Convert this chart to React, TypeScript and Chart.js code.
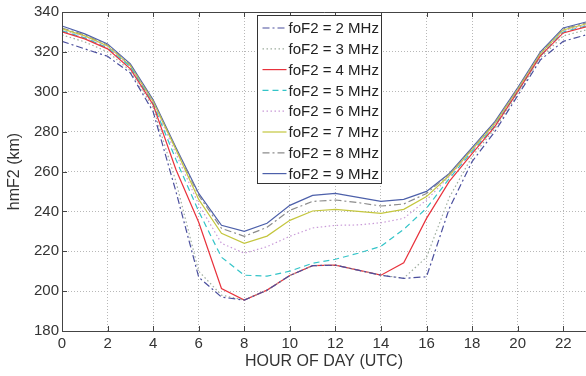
import React, { useEffect, useRef } from 'react';
import { Chart, registerables } from 'chart.js';

Chart.register(...registerables);

const hours = [0, 1, 2, 3, 4, 5, 6, 7, 8, 9, 10, 11, 12, 13, 14, 15, 16, 17, 18, 19, 20, 21, 22, 23];

const f2 = [325.3, 321.5, 317.8, 309.4, 290, 250, 207, 197, 195.5, 200.5, 207.8, 212.8, 213, 210.5, 208, 206.4, 207.2, 241.5, 265, 280, 298, 316, 325.3, 328.5];
const f3 = [328.5, 325, 320, 310.5, 292, 255, 210, 198, 195.5, 200.5, 207.8, 212.8, 213, 210.5, 208, 206.5, 217, 247, 267.5, 281.5, 299, 317, 328, 331];
const f4 = [330, 326.5, 321.5, 311.5, 293.5, 261, 234.5, 201.3, 195.5, 200.5, 207.8, 212.8, 213, 210.5, 208, 214.2, 236.5, 255, 269, 282.5, 300, 318, 329.5, 332.5];
const f5 = [330.5, 327, 322, 312.5, 294, 266, 240, 217, 208, 207.5, 210, 214, 216, 219, 222.5, 231, 241.6, 256.5, 270, 283, 300, 318, 330, 333];
const f6 = [331, 327.5, 322.5, 312.5, 294.5, 269, 243.5, 224, 219, 222.3, 227.5, 231.7, 233, 233.2, 234.3, 236.5, 245.7, 257.5, 270.5, 283.5, 300.5, 318.5, 330.5, 333.5];
const f7 = [331.5, 328, 323, 313, 295, 271, 246, 229, 224, 227.6, 235.5, 240.2, 241, 240, 239, 241, 247.4, 258, 271, 284, 301, 319, 331, 334];
const f8 = [332, 328.5, 323.5, 313.5, 295.5, 271.5, 248, 231.5, 227.5, 232, 240.5, 245, 245.7, 244.4, 242.7, 243.7, 249, 258.8, 271.5, 284.5, 301.5, 319.5, 331.5, 334.5];
const f9 = [333, 329, 324, 314, 296, 272, 249, 233, 230, 234, 243, 248, 249, 247, 245, 246, 250, 259, 272, 285, 302, 320, 332, 335];

const seriesLabels = ['foF2 = 2 MHz', 'foF2 = 3 MHz', 'foF2 = 4 MHz', 'foF2 = 5 MHz', 'foF2 = 6 MHz', 'foF2 = 7 MHz', 'foF2 = 8 MHz', 'foF2 = 9 MHz'];
const seriesValues = [f2, f3, f4, f5, f6, f7, f8, f9];
const seriesColors = ['#4b4f9e', '#9fae9f', '#e8323c', '#33c4c8', '#c99ad8', '#c4c63e', '#8c8c8c', '#4d60aa'];
const seriesDashes: number[][] = [[7, 3, 2, 3], [1.5, 2.5], [], [6, 4], [1.5, 2.5], [], [7, 3, 2, 3], []];

const yTicks = [180, 200, 220, 240, 260, 280, 300, 320, 340];
const xTicks = [0, 2, 4, 6, 8, 10, 12, 14, 16, 18, 20, 22];

const FONT = "'Liberation Sans', Arial, Helvetica, sans-serif";

const framePlugin = {
  id: 'frame',
  beforeDraw(chart: any) {
    const ctx = chart.ctx;
    ctx.save();
    ctx.fillStyle = '#ffffff';
    ctx.fillRect(0, 0, chart.width, chart.height);
    ctx.restore();
  },
  afterDraw(chart: any) {
    const ctx = chart.ctx;
    const a = chart.chartArea;
    const xs = chart.scales.x;
    const ys = chart.scales.y;
    ctx.save();
    ctx.strokeStyle = '#444444';
    ctx.lineWidth = 1;
    ctx.setLineDash([]);
    ctx.beginPath();
    ctx.moveTo(a.right, a.top + 0.5);
    ctx.lineTo(a.left + 0.5, a.top + 0.5);
    ctx.lineTo(a.left + 0.5, a.bottom + 0.5);
    ctx.lineTo(a.right, a.bottom + 0.5);
    ctx.stroke();
    // inward tick marks
    ctx.beginPath();
    xTicks.forEach((t) => {
      const px = Math.round(xs.getPixelForValue(t)) + 0.5;
      ctx.moveTo(px, a.bottom);
      ctx.lineTo(px, a.bottom - 5);
      ctx.moveTo(px, a.top);
      ctx.lineTo(px, a.top + 5);
    });
    yTicks.forEach((t) => {
      const py = Math.round(ys.getPixelForValue(t)) + 0.5;
      ctx.moveTo(a.left, py);
      ctx.lineTo(a.left + 5, py);
    });
    ctx.stroke();

    // legend
    const bx = a.left + 195.5;
    const by = a.top + 3.5;
    const bw = 124;
    const bh = 168;
    ctx.fillStyle = '#ffffff';
    ctx.fillRect(bx, by, bw, bh);
    ctx.strokeStyle = '#333333';
    ctx.strokeRect(bx, by, bw, bh);
    ctx.font = `15px ${FONT}`;
    ctx.textBaseline = 'middle';
    ctx.textAlign = 'left';
    seriesLabels.forEach((lab, i) => {
      const ry = by + 12.5 + i * 20.8;
      ctx.strokeStyle = seriesColors[i];
      ctx.lineWidth = 1.2;
      ctx.setLineDash(seriesDashes[i]);
      ctx.beginPath();
      ctx.moveTo(bx + 5, ry);
      ctx.lineTo(bx + 29, ry);
      ctx.stroke();
      ctx.setLineDash([]);
      ctx.fillStyle = '#222222';
      ctx.fillText(lab, bx + 31, ry + 1);
    });
    ctx.restore();
  },
};

export default function App() {
  const ref = useRef<HTMLCanvasElement | null>(null);
  useEffect(() => {
    if (!ref.current) return;
    const datasets = seriesLabels.map((lab, i) => ({
      label: lab,
      data: hours.map((h, j) => ({ x: h, y: seriesValues[i][j] })),
      borderColor: seriesColors[i],
      backgroundColor: seriesColors[i],
      borderWidth: 1.2,
      borderDash: seriesDashes[i],
      pointRadius: 0,
      tension: 0,
      fill: false,
    }));
    const chart = new Chart(ref.current, {
      type: 'line',
      data: { datasets },
      options: {
        responsive: false,
        animation: false,
        devicePixelRatio: 1,
        layout: { padding: { top: 12, right: 0, left: 0, bottom: 0 } },
        plugins: { legend: { display: false }, tooltip: { enabled: false } },
        scales: {
          x: {
            type: 'linear',
            min: 0,
            max: 23,
            afterFit: (s: any) => { s.height = 45; },
            afterBuildTicks: (s: any) => { s.ticks = xTicks.map((v) => ({ value: v })); },
            ticks: { color: '#333333', font: { family: FONT, size: 15 }, padding: 4, maxRotation: 0, autoSkip: false },
            grid: { color: '#b8b8b8', lineWidth: 1, drawTicks: false },
            border: { display: false, dash: [1, 2] },
            title: { display: true, text: 'HOUR OF DAY (UTC)', color: '#333333', font: { family: FONT, size: 16 }, padding: { top: 0, bottom: 5 } },
          },
          y: {
            type: 'linear',
            min: 180,
            max: 340,
            afterFit: (s: any) => { s.width = 62; },
            afterBuildTicks: (s: any) => { s.ticks = yTicks.map((v) => ({ value: v })); },
            ticks: { color: '#333333', font: { family: FONT, size: 15 }, padding: 3 },
            grid: { color: '#b8b8b8', lineWidth: 1, drawTicks: false },
            border: { display: false, dash: [1, 2] },
            title: { display: true, text: 'hmF2 (km)', color: '#333333', font: { family: FONT, size: 16 }, padding: { top: 5, bottom: 0 } },
          },
        },
      },
      plugins: [framePlugin],
    });
    return () => chart.destroy();
  }, []);
  return (
    <div style={{ position: 'fixed', left: 0, top: 0, width: 586, height: 376, background: '#fff' }}>
      <canvas ref={ref} width={586} height={376} style={{ display: 'block' }} />
    </div>
  );
}
